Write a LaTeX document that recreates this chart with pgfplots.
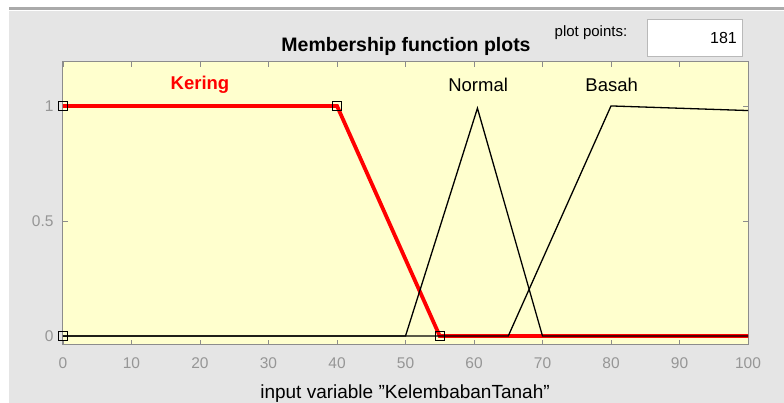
\documentclass[border=0pt]{standalone}
\usepackage{fontspec}
\setmainfont[Ligatures=NoCommon]{Liberation Sans}
\usepackage{pgfplots}
\pgfplotsset{compat=1.18}
\definecolor{bg}{RGB}{229,229,229}
\definecolor{plotbg}{RGB}{255,255,206}
\definecolor{ticklab}{RGB}{150,150,150}
\definecolor{axline}{RGB}{140,140,140}
\definecolor{topline}{RGB}{170,170,170}
\begin{document}
\begin{tikzpicture}[x=1pt,y=1pt]
\useasboundingbox (0,0) rectangle (784,403);
\fill[white] (0,0) rectangle (784,403);
\fill[bg] (9,0) rectangle (784,392);
\fill[topline] (9,393) rectangle (784,395.5);
\draw[fill=white, draw=gray!55, line width=1pt] (647,346) rectangle (742,383);
\node[anchor=east, inner sep=0pt, font=\fontsize{16}{18}\selectfont] at (737,365) {181};
\node[inner sep=0pt, font=\fontsize{15}{17}\selectfont] at (591,370) {plot points:};
\node[inner sep=0pt, font=\fontsize{19.5}{22}\selectfont\bfseries] at (406,357) {Membership function plots};
\node[inner sep=0pt, font=\fontsize{19}{22}\selectfont] at (405,9) {input variable \symbol{34}KelembabanTanah\symbol{34}};
\begin{axis}[
  at={(63pt,58pt)}, anchor=south west, scale only axis,
  width=685pt, height=283pt,
  xmin=0, xmax=100, ymin=-0.039, ymax=1.191,
  xtick={0,10,...,100}, ytick={0,0.5,1},
  tick align=inside, tick pos=both,
  xticklabel pos=lower, yticklabel pos=left,
  major tick length=5pt,
  axis line style={axline, line width=1pt},
  tick style={axline, line width=0.8pt},
  axis background/.style={fill=plotbg},
  ticklabel style={ticklab, font=\fontsize{15.5}{18}\selectfont},
  /pgf/number format/assume math mode=true,
  xticklabel style={yshift=-9pt},
  yticklabel style={xshift=-6pt},
]
\addplot[red, line width=3.8pt] coordinates {(0,1) (40,1) (55,0) (100,0)};
\addplot[black, line width=1.3pt] coordinates {(0,0) (50,0) (60.5,0.99) (70,0) (100,0)};
\addplot[black, line width=1.3pt] coordinates {(0,0) (65,0) (80,1) (100,0.98)};
\addplot[only marks, mark=square, mark size=4.2pt, mark options={black, line width=0.9pt}] coordinates {(0,1) (40,1) (0,0) (55,0)};
\node[red, font=\fontsize{18.5}{21}\selectfont\bfseries] at (axis cs:20,1.09) {Kering};
\node[black, font=\fontsize{18.5}{21}\selectfont] at (axis cs:60.6,1.09) {Normal};
\node[black, font=\fontsize{18.5}{21}\selectfont] at (axis cs:80.1,1.09) {Basah};
\end{axis}
\end{tikzpicture}
\end{document}
